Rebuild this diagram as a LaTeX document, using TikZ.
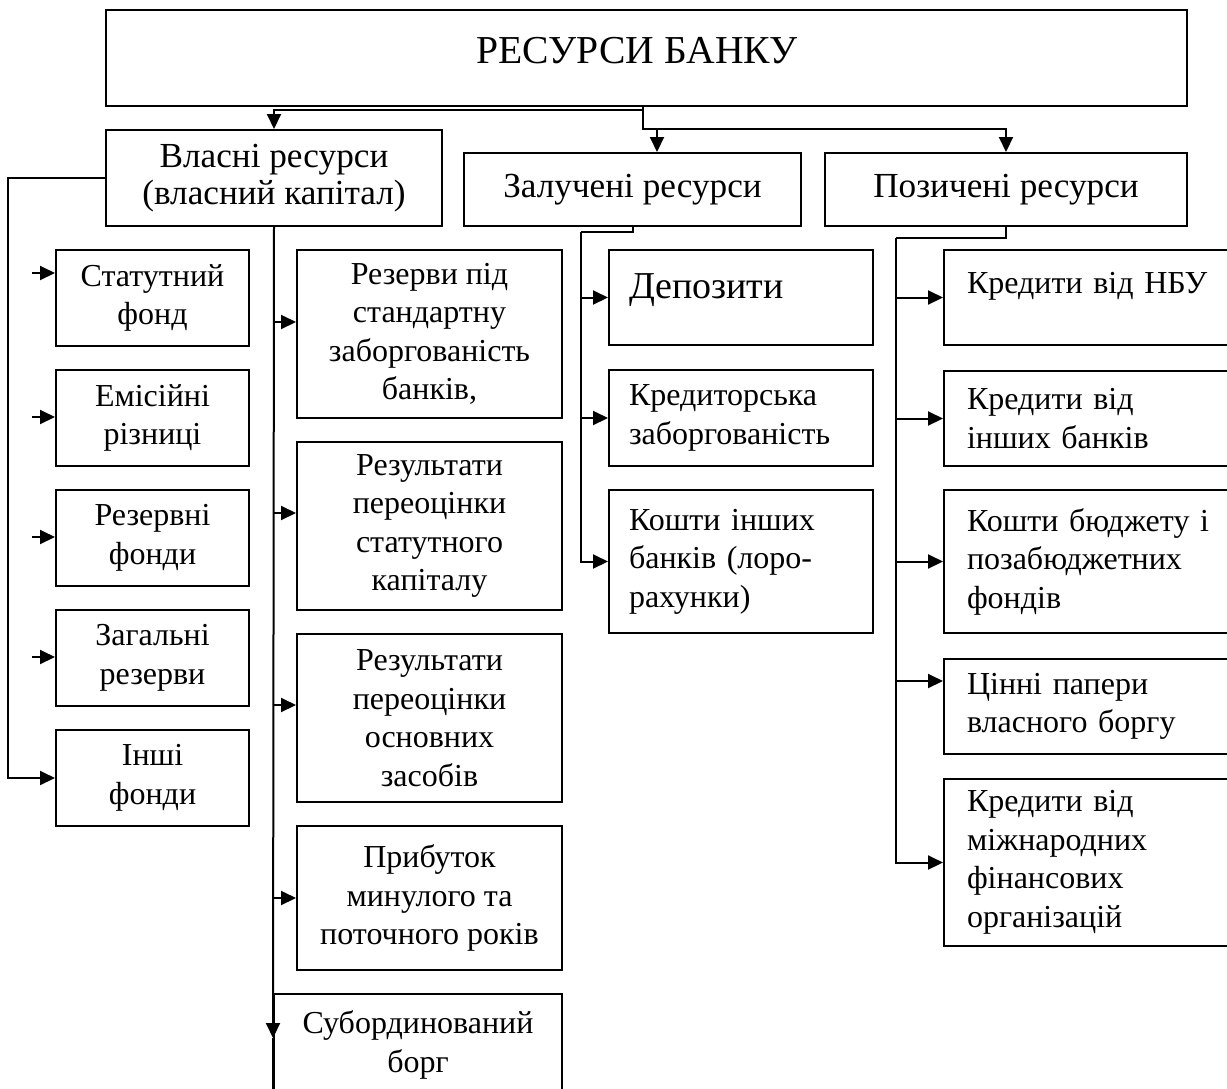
\documentclass[tikz,border=0pt]{standalone}
\usepackage{fontspec}
\setmainfont{Liberation Serif}
\usetikzlibrary{arrows.meta}
\newcommand\bodyfont{\fontsize{16pt}{19.25pt}\selectfont}
\newcommand\headfont{\fontsize{17.6pt}{18.5pt}\selectfont}
\newcommand\titlefont{\fontsize{19.8pt}{22pt}\selectfont}
\newcommand\depfont{\fontsize{19pt}{22pt}\selectfont}
\begin{document}
\begin{tikzpicture}[x=0.5pt,y=-0.5pt,
  box/.style={draw, line width=1pt, inner sep=0pt, anchor=north west, align=center, font=\bodyfont},
  lbox/.style={box, align=left},
  lcol/.style={box, minimum width=96.5pt, minimum height=48pt},
  mcol/.style={box, minimum width=132.5pt, minimum height=84pt},
  dcol/.style={lbox, text width=112pt, inner xsep=10pt},
  pcol/.style={lbox, text width=140pt, inner xsep=11.5pt, minimum height=47.5pt},
  arr/.style={line width=1pt, -{Triangle[length=7.5pt,width=7pt]}},
  conn/.style={line width=1pt}]
\useasboundingbox (0,0) rectangle (1227,1088);
\clip (0,0) rectangle (1227,1088);

% top level
\node[box, minimum width=540.5pt, minimum height=48pt, font=\titlefont, text height=14pt, text depth=8.5pt] (top) at (105,9) {РЕСУРСИ БАНКУ\kern9.5pt};

% second level
\node[box, minimum width=168pt, minimum height=48pt, font=\headfont] (vl) at (105,129) {Власні ресурси\\(власний капітал)};
\node[box, minimum width=168.5pt, minimum height=36.5pt, font=\headfont] (zl) at (463,152) {Залучені ресурси};
\node[box, minimum width=181pt, minimum height=36.5pt, font=\headfont] (pz) at (824,152) {Позичені ресурси};

% left column
\node[lcol] (s1) at (55,249) {Статутний\\фонд};
\node[lcol] (s2) at (55,369) {Емісійні\\різниці};
\node[lcol] (s3) at (55,489) {Резервні\\фонди};
\node[lcol] (s4) at (55,609) {Загальні\\резерви};
\node[lcol] (s5) at (55,729) {Інші\\фонди};

% middle column
\node[mcol] (m1) at (296,249) {Резерви під\\стандартну\\заборгованість\\банків,};
\node[mcol] (m2) at (296,441) {Результати\\переоцінки\\статутного\\капіталу};
\node[mcol] (m3) at (296,633) {Результати\\переоцінки\\основних\\засобів};
\node[mcol, minimum height=72pt] (m4) at (296,825) {Прибуток\\минулого та\\поточного років};
\node[box, minimum width=144pt, minimum height=51pt] (m5) at (273,993) {Субординований\\борг};

% attracted
\node[dcol, minimum height=47.5pt, font=\depfont, text height=14pt, text depth=13.5pt] (d1) at (608,249) {Депозити};
\node[dcol, minimum height=48pt] (d2) at (608,369) {Кредиторська\\заборгованість};
\node[dcol, minimum height=71.5pt] (d3) at (608,489) {Кошти інших\\банків (лоро-\\рахунки)};

% borrowed
\node[pcol, text height=12pt, text depth=16.5pt] (p1) at (943,249) {Кредити від НБУ};
\node[pcol] (p2) at (943,370) {Кредити від\\інших банків};
\node[pcol, minimum height=71.5pt] (p3) at (943,489) {Кошти бюджету і\\позабюджетних\\фондів};
\node[pcol] (p4) at (943,658) {Цінні папери\\власного боргу};
\node[pcol, minimum height=83.5pt] (p5) at (943,778) {Кредити від\\міжнародних\\фінансових\\організацій};

% top connectors
\coordinate (j1) at (643,110);
\coordinate (j2) at (643,129);
\coordinate (j3) at (657,129);
\draw[arr] (top.south -| j1) -- (j1) -| (vl.north);
\draw[arr] (j1) -- (j2) -| (pz.north);
\draw[arr] (j3) -- (j3 |- zl.north);

% left bus
\coordinate (lb) at (8,177);
\draw[arr] (vl.west) -- (vl.west -| lb) |- (s5.west);
\coordinate (a1) at (32,273);
\coordinate (a2) at (32,417);
\coordinate (a3) at (32,537);
\coordinate (a4) at (32,657);
\draw[arr] (a1) -- (a1 -| s1.west);
\draw[arr] (a2) -- (a2 -| s2.west);
\draw[arr] (a3) -- (a3 -| s3.west);
\draw[arr] (a4) -- (a4 -| s4.west);

% middle trunk
\coordinate (b1) at (273,322);
\coordinate (b2) at (273,513);
\coordinate (b3) at (273,705);
\coordinate (b4) at (273,898);
\coordinate (tA) at (273,1038);
\coordinate (tE) at (273,1100);
\draw[arr] (vl.south) -- (tA);
\draw[conn] (tA) -- (tE);
\draw[arr] (b1) -- (b1 -| m1.west);
\draw[arr] (b2) -- (b2 -| m2.west);
\draw[arr] (b3) -- (b3 -| m3.west);
\draw[arr] (b4) -- (b4 -| m4.west);

% attracted bus
\coordinate (zb) at (581,232);
\draw[conn] (zl.south) |- (zb);
\draw[arr] (zb) |- (d3.west);
\draw[arr] (zb |- d1.west) -- (d1.west);
\draw[arr] (zb |- d2.west) -- (d2.west);

% borrowed bus
\coordinate (pb) at (896,238);
\coordinate (c4) at (896,681);
\draw[conn] (pz.south) |- (pb);
\draw[arr] (pb) |- (p5.west);
\draw[arr] (pb |- p1.west) -- (p1.west);
\draw[arr] (pb |- p2.west) -- (p2.west);
\draw[arr] (pb |- p3.west) -- (p3.west);
\draw[arr] (c4) -- (c4 -| p4.west);
\end{tikzpicture}
\end{document}
